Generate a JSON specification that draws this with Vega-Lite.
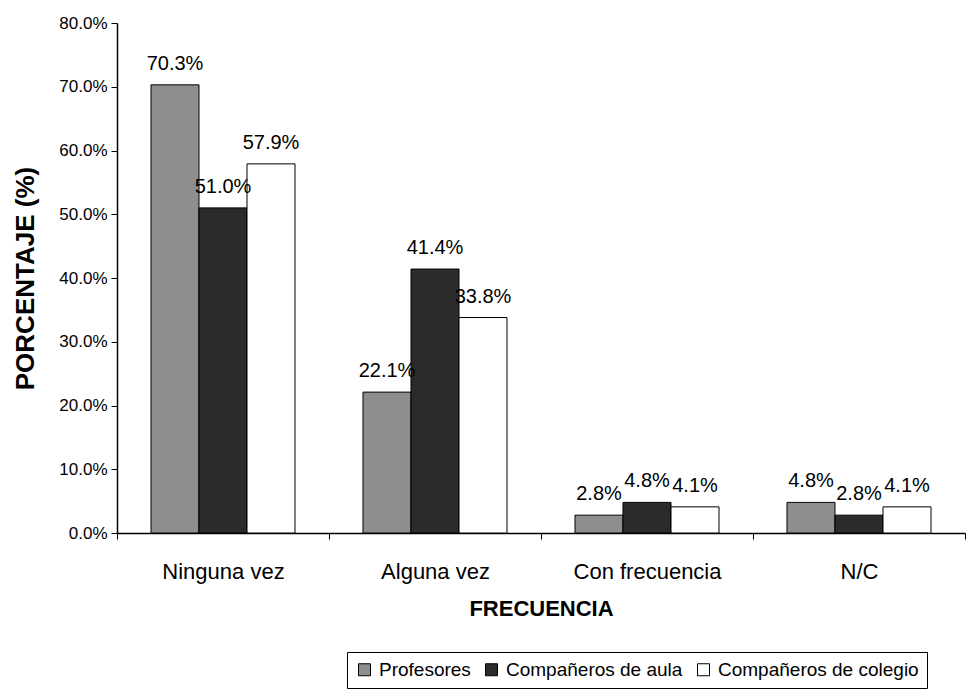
{
  "$schema": "https://vega.github.io/schema/vega-lite/v6.json",
  "width": 848,
  "height": 510,
  "autosize": {"type": "none"},
  "padding": {"left": 117, "top": 23, "right": 4, "bottom": 157},
  "background": "white",
  "config": {
    "font": "Liberation Sans",
    "view": {"stroke": null},
    "axis": {"grid": false, "domainColor": "black", "tickColor": "black", "labelColor": "black", "titleColor": "black"}
  },
  "data": {
    "values": [
      {"frecuencia": "Ninguna vez", "grupo": "Profesores", "valor": 0.703},
      {"frecuencia": "Ninguna vez", "grupo": "Compañeros de aula", "valor": 0.510},
      {"frecuencia": "Ninguna vez", "grupo": "Compañeros de colegio", "valor": 0.579},
      {"frecuencia": "Alguna vez", "grupo": "Profesores", "valor": 0.221},
      {"frecuencia": "Alguna vez", "grupo": "Compañeros de aula", "valor": 0.414},
      {"frecuencia": "Alguna vez", "grupo": "Compañeros de colegio", "valor": 0.338},
      {"frecuencia": "Con frecuencia", "grupo": "Profesores", "valor": 0.028},
      {"frecuencia": "Con frecuencia", "grupo": "Compañeros de aula", "valor": 0.048},
      {"frecuencia": "Con frecuencia", "grupo": "Compañeros de colegio", "valor": 0.041},
      {"frecuencia": "N/C", "grupo": "Profesores", "valor": 0.048},
      {"frecuencia": "N/C", "grupo": "Compañeros de aula", "valor": 0.028},
      {"frecuencia": "N/C", "grupo": "Compañeros de colegio", "valor": 0.041}
    ]
  },
  "encoding": {
    "x": {
      "field": "frecuencia",
      "type": "nominal",
      "sort": ["Ninguna vez", "Alguna vez", "Con frecuencia", "N/C"],
      "scale": {"paddingInner": 0, "paddingOuter": 0},
      "axis": {
        "title": "FRECUENCIA",
        "titleFontSize": 22,
        "titleFontWeight": "bold",
        "titlePadding": 16,
        "labelFontSize": 22,
        "labelAngle": 0,
        "labelPadding": 22,
        "labelLimit": 0,
        "tickBand": "extent",
        "tickSize": 6,
        "domainWidth": 1.5
      }
    },
    "xOffset": {
      "field": "grupo",
      "type": "nominal",
      "sort": ["Profesores", "Compañeros de aula", "Compañeros de colegio"],
      "scale": {"paddingInner": 0, "paddingOuter": 0.708}
    },
    "y": {
      "field": "valor",
      "type": "quantitative",
      "scale": {"domain": [0, 0.8]},
      "axis": {
        "title": "PORCENTAJE (%)",
        "titleFontSize": 26,
        "titleFontWeight": "bold",
        "titlePadding": 20,
        "format": ".1%",
        "values": [0, 0.1, 0.2, 0.3, 0.4, 0.5, 0.6, 0.7, 0.8],
        "labelFontSize": 17,
        "labelPadding": 4,
        "tickSize": 6,
        "domainWidth": 1.5
      }
    }
  },
  "layer": [
    {
      "mark": {"type": "bar", "stroke": "black", "strokeWidth": 1},
      "encoding": {
        "fill": {
          "field": "grupo",
          "type": "nominal",
          "sort": ["Profesores", "Compañeros de aula", "Compañeros de colegio"],
          "scale": {"domain": ["Profesores", "Compañeros de aula", "Compañeros de colegio"], "range": ["#8e8e8e", "#2b2b2b", "#ffffff"]},
          "legend": {
            "title": null,
            "orient": "none",
            "legendX": 230,
            "legendY": 629,
            "direction": "horizontal",
            "columns": 3,
            "columnPadding": 11,
            "symbolType": "square",
            "symbolSize": 144,
            "symbolStrokeColor": "black",
            "symbolStrokeWidth": 1,
            "labelFontSize": 19,
            "labelLimit": 0,
            "labelColor": "black",
            "labelOffset": 5,
            "strokeColor": "black",
            "padding": 8
          }
        }
      }
    },
    {
      "mark": {"type": "text", "baseline": "bottom", "dy": -11, "fontSize": 20, "color": "black"},
      "encoding": {
        "text": {"field": "valor", "type": "quantitative", "format": ".1%"}
      }
    }
  ]
}
